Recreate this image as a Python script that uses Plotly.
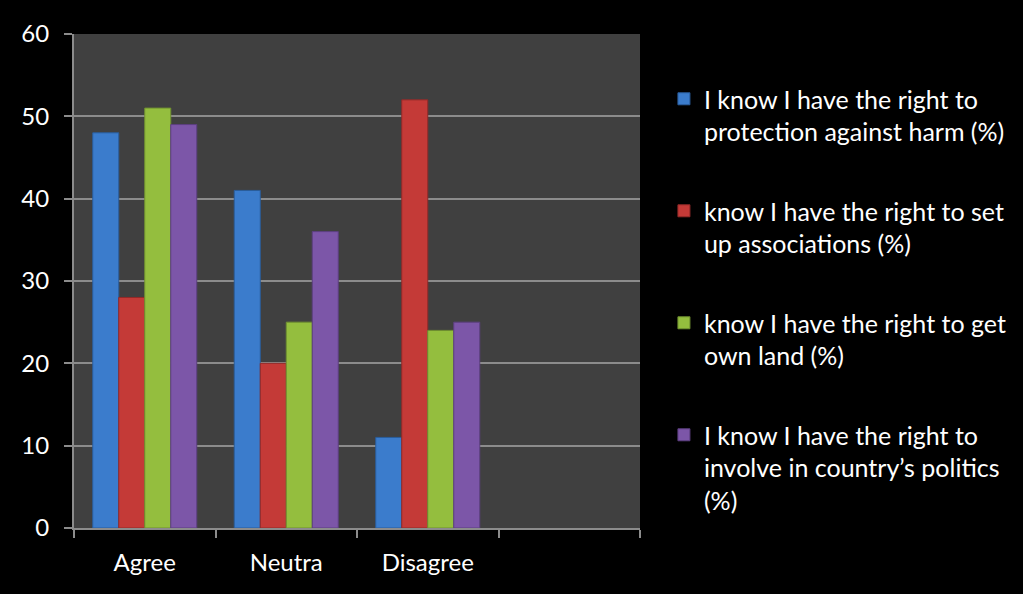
import plotly.graph_objects as go

categories = ["Agree", "Neutra", "Disagree"]
x_pos = [0, 1, 2]
series_names = [
    "I know I have the right to<br>protection against harm (%)",
    "know I have the right to set<br>up associations (%)",
    "know I have the right to get<br>own land (%)",
    "I know I have the right to<br>involve in country\u2019s politics<br>(%)",
]
protection = [48, 41, 11]
associations = [28, 20, 52]
land = [51, 25, 24]
politics = [49, 36, 25]
values = [protection, associations, land, politics]
colors = ["#3b7ccc", "#c43a37", "#94be3e", "#7c56a8"]
edges = ["#2a5d9c", "#922a28", "#6f9030", "#5c3f80"]
y_ticks = [0, 10, 20, 30, 40, 50, 60]

fig = go.Figure()
for i, (name, vals) in enumerate(zip(series_names, values)):
    fig.add_trace(go.Bar(
        x=x_pos, y=vals, name=name, legendgroup=f"g{i}",
        marker=dict(color=colors[i], line=dict(color=edges[i], width=1)),
    ))

fig.update_layout(
    width=1023, height=594,
    margin=dict(l=74, r=383, t=34, b=66),
    paper_bgcolor="black", plot_bgcolor="#404040",
    barmode="group", bargap=0.265, bargroupgap=0,
    font=dict(family="Lato, Open Sans, sans-serif", color="white", size=24),
    legend=dict(
        xref="container", yref="container", x=0.649, y=0.872,
        xanchor="left", yanchor="top",
        font=dict(size=25, color="white"),
        traceorder="grouped", tracegroupgap=44, valign="top",
        bgcolor="rgba(0,0,0,0)", maxheight=590,
    ),
    showlegend=True,
)
fig.update_xaxes(
    range=[-0.5, 3.5], tickvals=x_pos, ticktext=categories, ticks="",
    showgrid=False, zeroline=False, showline=True, linecolor="#8c8c8c", linewidth=2,
    tickfont=dict(size=24), ticklabelstandoff=12,
    minor=dict(tickvals=[-0.5, 0.5, 1.5, 2.5, 3.5], ticks="outside", ticklen=8,
               tickwidth=2, tickcolor="#8c8c8c", showgrid=False),
)
fig.update_yaxes(
    range=[0, 60], tickvals=y_ticks, ticks="outside", ticklen=8, tickwidth=2,
    tickcolor="#8c8c8c", showgrid=True, gridcolor="#8c8c8c", gridwidth=2,
    zeroline=False, showline=True, linecolor="#8c8c8c", linewidth=2,
    tickfont=dict(size=24), ticklabelstandoff=10,
)
fig.write_html("out.html")
